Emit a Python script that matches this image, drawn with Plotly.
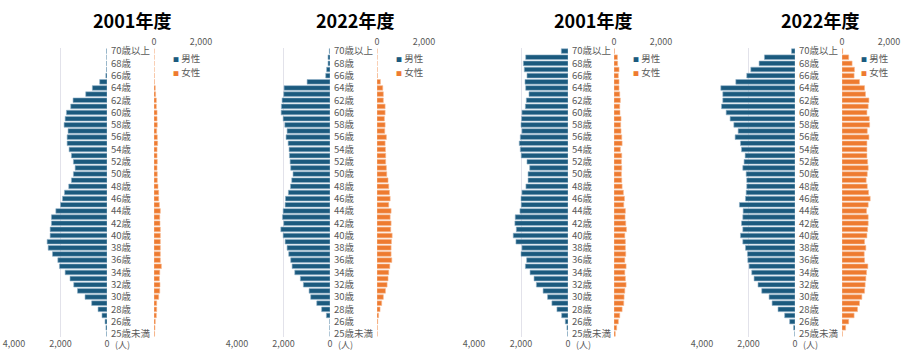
import plotly.graph_objects as go

# Categories, top (70歳以上) to bottom (25歳未満)
categories = ["70歳以上", "69歳", "68歳", "67歳", "66歳", "65歳", "64歳", "63歳", "62歳", "61歳",
              "60歳", "59歳", "58歳", "57歳", "56歳", "55歳", "54歳", "53歳", "52歳", "51歳",
              "50歳", "49歳", "48歳", "47歳", "46歳", "45歳", "44歳", "43歳", "42歳", "41歳",
              "40歳", "39歳", "38歳", "37歳", "36歳", "35歳", "34歳", "33歳", "32歳", "31歳",
              "30歳", "29歳", "28歳", "27歳", "26歳", "25歳", "25歳未満"]

titles = ["2001年度", "2022年度", "2001年度", "2022年度"]

male_p1 = [15, 10, 15, 20, 50, 315, 630, 915, 1460, 1560,
           1745, 1800, 1845, 1675, 1715, 1715, 1630, 1530, 1445, 1370,
           1445, 1530, 1645, 1830, 1915, 2000, 2200, 2390, 2390, 2445,
           2445, 2575, 2530, 2345, 2115, 2045, 1800, 1590, 1430, 1270,
           945, 660, 385, 215, 85, 45, 15]
female_p1 = [5, 5, 5, 5, 10, 15, 55, 70, 100, 100,
             130, 130, 140, 115, 140, 155, 130, 130, 140, 130,
             140, 140, 170, 200, 200, 230, 270, 245, 255, 270,
             270, 270, 270, 270, 270, 315, 245, 230, 255, 245,
             200, 115, 115, 100, 55, 40, 25]

male_p2 = [30, 85, 85, 145, 185, 985, 1975, 1990, 2060, 2090,
           2100, 2015, 1945, 1845, 1890, 1800, 1760, 1745, 1715, 1690,
           1590, 1645, 1700, 1790, 1915, 1930, 2015, 2045, 1990, 2115,
           2015, 1930, 1845, 1775, 1690, 1630, 1515, 1275, 1145, 900,
           830, 570, 360, 155, 10, 10, 5]
female_p2 = [5, 5, 5, 10, 15, 145, 245, 270, 270, 345,
             345, 315, 345, 330, 400, 345, 360, 370, 370, 400,
             415, 470, 500, 530, 560, 500, 600, 560, 600, 585,
             645, 615, 600, 600, 630, 545, 500, 470, 430, 360,
             270, 200, 130, 70, 30, 15, 10]

male_p3 = [285, 1800, 1900, 1860, 1745, 1830, 1800, 1660, 1775, 1815,
           1960, 1975, 2000, 1960, 2030, 2075, 2030, 1990, 1745, 1630,
           1700, 1700, 1790, 1960, 2000, 1990, 2045, 2245, 2260, 2200,
           2330, 2215, 1960, 2000, 1760, 1815, 1615, 1445, 1345, 1060,
           870, 685, 470, 270, 115, 45, 15]
female_p3 = [20, 145, 155, 215, 185, 215, 215, 245, 270, 245,
             255, 300, 285, 300, 330, 345, 270, 330, 315, 330,
             315, 330, 345, 400, 445, 415, 485, 470, 500, 530,
             460, 485, 485, 500, 460, 515, 460, 485, 515, 460,
             430, 415, 345, 245, 185, 115, 55]

male_p4 = [150, 1315, 1545, 1900, 2075, 2545, 3190, 3105, 3105, 3160,
           2960, 2790, 2630, 2445, 2575, 2345, 2300, 2145, 2190, 2245,
           2100, 2075, 2075, 2100, 2130, 2390, 2230, 2245, 2300, 2245,
           2345, 2245, 2130, 2045, 2030, 1975, 1860, 1760, 1590, 1430,
           1115, 985, 730, 445, 230, 60, 10]
female_p4 = [30, 285, 430, 530, 515, 745, 960, 1000, 1145, 1115,
             1060, 1160, 1175, 1075, 1145, 1060, 1060, 1060, 1090, 1115,
             1075, 1030, 1075, 1130, 1200, 1115, 1045, 1115, 1115, 1090,
             1060, 960, 1015, 945, 960, 1100, 1045, 1015, 985, 960,
             845, 745, 660, 515, 285, 155, 15]

males = [male_p1, male_p2, male_p3, male_p4]
females = [female_p1, female_p2, female_p3, female_p4]

W, H = 920, 359
MALE_COLOR = "#1B5A7E"
FEMALE_COLOR = "#EE7B30"
TXT = "#595959"
GRID = "#E2E2EA"
FONT = "Noto Sans CJK JP"

# pixel layout of each panel: (male 4000 px, male 0 px, female 0 px, female 2000 px)
panels_px = [(14, 107, 154, 201), (237, 330, 377, 424), (474, 568, 614, 661), (702, 795, 842, 889)]
top_px, bot_px = 48, 337
ydom = [(H - bot_px) / H, (H - top_px) / H]

fig = go.Figure()
layout = dict(template="none", width=W, height=H,
              margin=dict(l=0, r=0, t=0, b=0, autoexpand=False),
              paper_bgcolor="white", plot_bgcolor="white",
              showlegend=False, bargap=0.25,
              font=dict(family=FONT, size=9, color=TXT))
annotations = []

for i in range(4):
    mx = 2 * i + 1
    fx = 2 * i + 2
    xm = "x" if mx == 1 else f"x{mx}"
    xf = f"x{fx}"
    ym = "y" if mx == 1 else f"y{mx}"
    yf = f"y{fx}"
    p4000, p0, f0, f2000 = panels_px[i]

    fig.add_trace(go.Bar(y=categories, x=males[i], orientation="h", name="男性",
                         xaxis=xm, yaxis=ym,
                         marker=dict(color=MALE_COLOR, line=dict(color="#8FB0C8", width=0.6)),
                         hoverinfo="x+y"))
    fig.add_trace(go.Bar(y=categories, x=females[i], orientation="h", name="女性",
                         xaxis=xf, yaxis=yf,
                         marker=dict(color=FEMALE_COLOR, line=dict(color="#F6B890", width=0.6)),
                         hoverinfo="x+y"))

    layout["xaxis" if mx == 1 else f"xaxis{mx}"] = dict(
        domain=[p4000 / W, p0 / W], range=[4000, 0], anchor=ym, side="bottom",
        tickvals=[0, 2000, 4000], ticktext=["0", "2,000", "4,000"],
        showgrid=True, gridcolor=GRID, gridwidth=1, zeroline=False, automargin=False,
        showline=False, ticks="", tickfont=dict(size=9, color=TXT), fixedrange=True)
    layout[f"xaxis{fx}"] = dict(
        domain=[f0 / W, f2000 / W], range=[0, 2000], anchor=yf, side="top",
        tickvals=[0, 2000], ticktext=["0", "2,000"],
        showgrid=True, gridcolor=GRID, gridwidth=1, zeroline=False, automargin=False,
        showline=False, ticks="", tickfont=dict(size=9, color=TXT), fixedrange=True)
    layout["yaxis" if mx == 1 else f"yaxis{mx}"] = dict(
        domain=ydom, anchor=xm, side="right", type="category",
        categoryorder="array", categoryarray=categories, autorange="reversed",
        tickmode="linear", tick0=0, dtick=2, ticks="", showgrid=False, automargin=False,
        showline=False, zeroline=False, tickfont=dict(size=9.5, color=TXT),
        ticklabelstandoff=3, fixedrange=True)
    layout[f"yaxis{fx}"] = dict(
        domain=ydom, anchor=xf, type="category", matches=ym,
        categoryorder="array", categoryarray=categories, autorange="reversed",
        showticklabels=False, ticks="", showgrid=False, showline=False, automargin=False,
        zeroline=False, fixedrange=True)

    # title
    annotations.append(dict(text=f"<b>{titles[i]}</b>", x=(p0 + 25) / W, y=(H - 20) / H,
                            xref="paper", yref="paper", showarrow=False,
                            xanchor="center", yanchor="middle",
                            font=dict(family=FONT, size=18, color="#000000")))
    # legend
    for j, (lbl, col) in enumerate([("男性", MALE_COLOR), ("女性", FEMALE_COLOR)]):
        annotations.append(dict(
            text=f"<span style='font-size:6px;color:{col}'>■</span> {lbl}",
            x=(f0 + 17) / W, y=(H - (58 + 14 * j)) / H, xref="paper", yref="paper",
            showarrow=False, xanchor="left", yanchor="middle",
            font=dict(family=FONT, size=9.5, color=TXT)))
    # unit
    annotations.append(dict(text="(人)", x=(p0 + 6) / W, y=(H - 344) / H,
                            xref="paper", yref="paper", showarrow=False,
                            xanchor="left", yanchor="middle",
                            font=dict(family=FONT, size=9, color=TXT)))

layout["annotations"] = annotations
fig.update_layout(**layout)
fig.write_html("out.html", config={"displayModeBar": False},
               post_script="document.body.style.margin='0';document.body.style.padding='0';")
